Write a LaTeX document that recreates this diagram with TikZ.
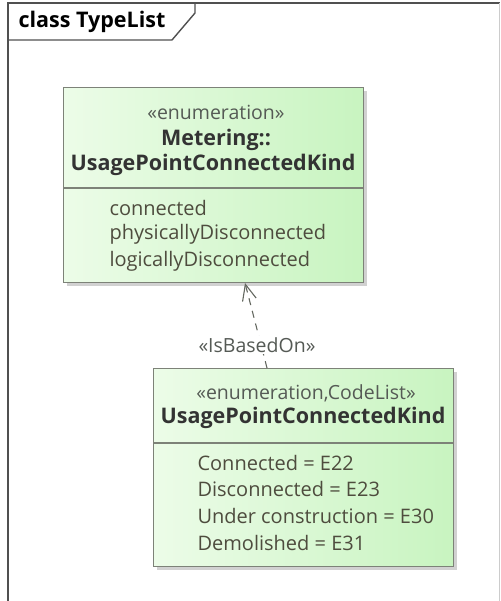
\documentclass[tikz,border=0pt]{standalone}
\usepackage{fontspec}
\setmainfont{Open Sans}
\usetikzlibrary{arrows.meta,shadows}
\definecolor{frameline}{RGB}{80,80,80}
\definecolor{boxline}{RGB}{125,130,120}
\definecolor{boxleft}{RGB}{236,252,232}
\definecolor{boxright}{RGB}{200,244,192}
\definecolor{attrtext}{RGB}{78,76,62}
\definecolor{stereotext}{RGB}{85,90,85}
\tikzset{
  classbox/.style={draw=boxline, line width=1.2pt, left color=boxleft, right color=boxright,
    anchor=north west, inner sep=0pt,
    drop shadow={shadow xshift=3pt, shadow yshift=-3pt, fill=gray!45, opacity=.8}},
  stereo/.style={text=stereotext, font=\fontsize{19.5}{23}\selectfont},
  classname/.style={text=black!80, font=\fontsize{21.5}{25}\selectfont\bfseries},
  attr/.style={text=attrtext, anchor=west, font=\fontsize{20}{24}\selectfont},
}
\begin{document}
\begin{tikzpicture}[x=1pt,y=-1pt]
        \useasboundingbox (0,0) rectangle (500,601);
        % frame and tab
        \draw[frameline, line width=1.6pt] (8,601) -- (8,3) -- (500,3);
        \draw[gray!40, line width=0.8pt] (499,3) -- (499,601);
        \draw[frameline, line width=1.4pt] (8,40) -- (172,40) -- (195,13) -- (195,3);
        \node[anchor=west, font=\fontsize{21.5}{25}\selectfont\bfseries] (title) at (15,22) {class TypeList};
        % Metering::UsagePointConnectedKind
        \node[classbox, minimum width=300pt, minimum height=195pt] (meter) at (63,87) {};
        \draw[boxline, line width=1.2pt] (63,188) -- (363,188);
        \node[stereo] (meterst) at (216,112) {«enumeration»};
        \node[classname] (meterpkg) at (216,140) {Metering::};
        \node[classname] (metername) at (213,165) {UsagePointConnectedKind};
        \node[attr] (m1) at (106,208) {connected};
        \node[attr] (m2) at (106,234) {physicallyDisconnected};
        \node[attr] (m3) at (106,261) {logicallyDisconnected};
        % UsagePointConnectedKind (CodeList)
        \node[classbox, minimum width=300pt, minimum height=198pt] (code) at (153,368) {};
        \draw[boxline, line width=1.2pt] (153,443) -- (453,443);
        \node[stereo] (codest) at (306,393) {«enumeration,CodeList»};
        \node[classname] (codename) at (303,418) {UsagePointConnectedKind};
        \node[attr] (c1) at (194,463) {Connected = E22};
        \node[attr] (c2) at (194,489) {Disconnected = E23};
        \node[attr] (c3) at (194,516) {Under construction = E30};
        \node[attr] (c4) at (194,543) {Demolished = E31};
        % dependency
        \coordinate (src) at (267,368);
        \coordinate (dst) at (245,283);
        \draw[boxline!80!black, line width=1.1pt, dash pattern=on 7pt off 6pt,
          -{Straight Barb[length=16pt, width=14pt, line width=1.1pt]}] (src) -- (dst);
        \node[stereo, fill=white, inner sep=1pt] (based) at (257,345) {«IsBasedOn»};
    \end{tikzpicture}
\end{document}
